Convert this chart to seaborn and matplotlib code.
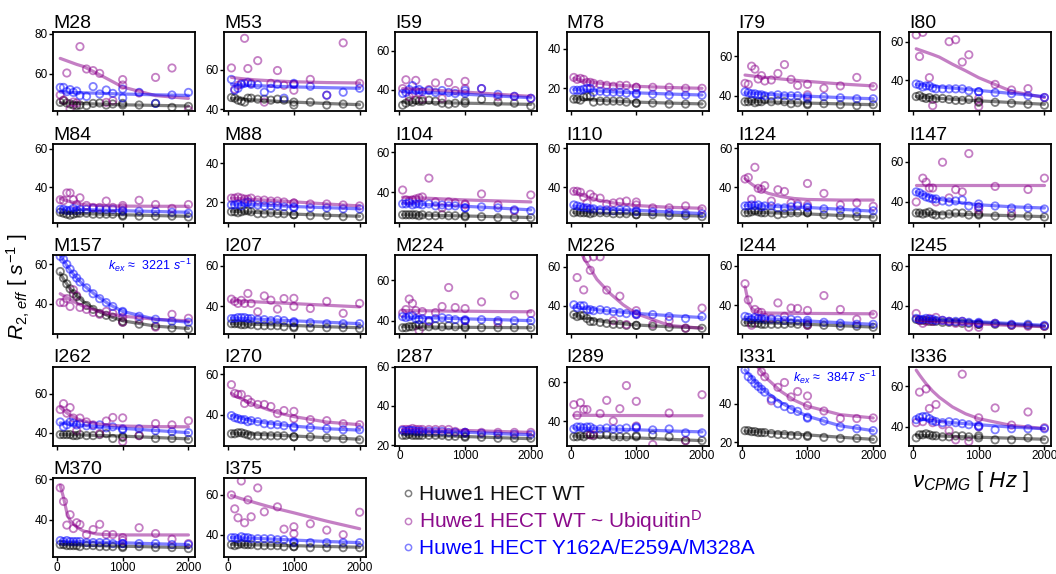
import numpy as np
import matplotlib
matplotlib.use("Agg")
import matplotlib.pyplot as plt
from matplotlib.lines import Line2D
from matplotlib.ticker import MultipleLocator, NullFormatter
import seaborn as sns

nan = np.nan

# ---------------------------------------------------------------- data
residues = ["M28", "M53", "I59", "M78", "I79", "I80",
            "M84", "M88", "I104", "I110", "I124", "I147",
            "M157", "I207", "M224", "M226", "I244", "I245",
            "I262", "I270", "I287", "I289", "I331", "I336",
            "M370", "I375"]

# CPMG refocusing frequencies (Hz) of the measured points
nu_cpmg = [50, 100, 150, 200, 250, 300, 350, 450, 550, 650, 750, 850,
           1000, 1000, 1250, 1500, 1750, 2000]
# frequencies at which the fitted dispersion curves are tabulated
nu_fit = [50, 100, 150, 200, 300, 400, 600, 800, 1000, 1500, 2000]

y_limits = {
    "M28": (41.5, 81), "M53": (39, 79), "I59": (29, 69.5), "M78": (8.5, 48.5),
    "I79": (32.3, 72.3), "I80": (24, 65), "M84": (21.7, 62.6), "M88": (9.5, 50),
    "I104": (24.6, 64.5), "I110": (22, 62.5), "I124": (22, 62.5), "I147": (29.8, 69),
    "M157": (24.5, 64.7), "I207": (26.4, 65.4), "M224": (33.4, 72.5), "M226": (25.6, 65.9),
    "I244": (25.6, 65.5), "I245": (25.6, 65.6), "I262": (33.4, 74), "I270": (24.7, 63.8),
    "I287": (19.8, 60.2), "I289": (27.5, 68.1), "I331": (18.3, 59.3), "I336": (30.7, 69.8),
    "M370": (21.3, 60.7), "I375": (28.8, 68.5),
}

# R2,eff of Huwe1 HECT WT
wt_r2 = {
    "M28": [45.8, 46.7, 45.5, 45.0, 44.5, 44.2, 44.5, 44.2, 45.3, 45.5, 44.5, 45.0, 45.3, 44.5, 44.5, 45.3, 43.3, 43.8],
    "M53": [45.8, 45.5, 44.5, 44.0, 43.5, 45.5, 45.5, 45.0, 45.0, 44.5, 45.0, 44.5, 43.5, 42.0, 43.5, 42.0, 42.5, 42.0],
    "I59": [32.0, 33.0, 34.0, 33.5, 34.5, 34.0, 34.0, 34.5, 34.0, 33.0, 32.5, 33.0, 34.0, 33.0, 35.0, 33.5, 33.0, 31.5],
    "M78": [14.5, 14.5, 14.0, 15.5, 16.0, 16.0, 13.0, 13.5, 13.5, 13.5, 13.5, 13.0, 12.5, 12.5, 12.5, 12.0, 12.0, 12.0],
    "I79": [37.0, 37.0, 37.5, 36.5, 37.0, 37.0, 38.0, 37.0, 37.5, 37.0, 36.0, 36.5, 36.0, 35.5, 36.0, 35.5, 35.0, 35.5],
    "I80": [31.5, 32.0, 31.0, 30.5, 31.0, 30.0, 30.5, 30.5, 30.0, 29.5, 29.5, 30.0, 29.0, 28.5, 28.5, 28.0, 27.5, 27.0],
    "M84": [27.0, 26.5, 26.0, 25.5, 26.0, 26.5, 26.5, 26.5, 26.0, 26.0, 26.0, 26.0, 25.5, 25.0, 25.0, 25.0, 25.0, 24.5],
    "M88": [15.0, 15.0, 14.5, 15.0, 15.5, 15.5, 15.0, 14.0, 14.0, 14.5, 14.0, 14.0, 13.5, 13.5, 13.0, 13.0, 12.5, 12.5],
    "I104": [28.5, 28.5, 28.5, 28.5, 28.5, 28.0, 28.5, 28.0, 28.0, 28.5, 28.0, 28.0, 28.0, 27.5, 27.5, 27.0, 27.0, 27.0],
    "I110": [27.0, 27.5, 27.0, 27.0, 27.0, 26.5, 27.0, 27.0, 27.0, 26.5, 26.5, 26.5, 26.0, 26.0, 26.0, 25.5, 25.5, 25.0],
    "I124": [27.0, 27.0, 27.5, 28.0, 27.5, 27.0, 27.0, 27.0, 26.0, 26.5, 27.0, 27.0, 27.0, 27.0, 26.0, 25.5, 25.0, 24.5],
    "I147": [34.5, 34.5, 34.0, 34.5, 35.0, 34.0, 33.5, 33.5, 34.0, 34.5, 34.5, 33.5, 33.5, 34.0, 33.0, 33.0, 33.0, 32.5],
    "M157": [56.3, 53.0, 50.0, 47.5, 45.0, 43.5, 41.5, 39.0, 37.0, 35.0, 34.0, 33.0, 31.0, 30.5, 29.5, 28.5, 27.5, 27.0],
    "I207": [31.5, 31.5, 31.5, 31.0, 31.0, 31.5, 31.0, 30.5, 30.5, 30.5, 30.5, 30.0, 29.5, 30.0, 29.5, 29.5, 29.5, 29.0],
    "M224": [36.5, 36.5, 37.0, 37.0, 37.5, 38.0, 37.0, 37.0, 37.5, 37.0, 37.5, 37.0, 36.5, 37.0, 36.5, 36.5, 36.5, 36.5],
    "M226": [35.5, 34.5, 35.0, 35.0, 33.5, 32.0, 32.0, 31.5, 31.0, 30.5, 30.5, 30.0, 30.0, 30.0, 29.5, 29.0, 28.5, 28.5],
    "I244": [31.5, 31.5, 31.0, 31.0, 31.0, 30.5, 30.5, 30.5, 30.5, 30.5, 31.0, 30.5, 30.0, 30.5, 30.0, 29.5, 29.5, 29.0],
    "I245": [33.0, 32.5, 32.5, 32.5, 32.0, 32.0, 32.0, 31.5, 31.5, 31.5, 31.0, 31.0, 30.5, 30.5, 30.5, 30.0, 30.0, 29.5],
    "I262": [39.0, 39.0, 39.0, 39.0, 38.5, 38.5, 39.0, 38.5, 38.5, 39.0, 39.5, 37.0, 38.0, 37.5, 38.5, 37.0, 37.0, 36.5],
    "I270": [30.5, 30.5, 31.0, 31.0, 30.5, 30.0, 29.5, 29.5, 29.5, 29.5, 29.5, 29.5, 29.0, 29.0, 29.0, 28.5, 28.0, 27.5],
    "I287": [25.0, 25.0, 25.5, 25.0, 25.0, 25.0, 25.0, 25.0, 25.0, 25.0, 24.5, 24.5, 24.5, 24.0, 24.0, 23.5, 23.5, 23.5],
    "I289": [32.0, 32.0, 32.5, 32.0, 33.0, 33.0, 32.5, 33.0, 33.0, 32.0, 32.0, 32.0, 32.5, 32.0, 33.0, 32.0, 30.0, 30.0],
    "I331": [26.0, 26.0, 25.5, 25.5, 25.0, 25.0, 25.0, 24.5, 24.0, 24.0, 23.5, 23.5, 23.5, 23.0, 22.5, 22.0, 22.0, 21.5],
    "I336": [34.5, 36.0, 36.0, 36.5, 36.0, 35.5, 35.5, 35.0, 35.0, 35.5, 35.5, 35.0, 35.5, 34.5, 33.5, 33.5, 34.5, 33.5],
    "M370": [27.5, 27.5, 27.0, 27.0, 27.0, 27.0, 26.5, 27.0, 27.0, 26.5, 26.5, 26.5, 26.5, 26.0, 26.5, 26.0, 26.0, 25.5],
    "I375": [35.0, 34.5, 35.0, 35.5, 35.0, 35.0, 35.0, 34.5, 34.5, 34.5, 34.5, 34.0, 34.0, 34.0, 33.5, 33.5, 33.5, 33.5],
}

# R2,eff of Huwe1 HECT WT ~ ubiquitin donor
ub_r2 = {
    "M28": [49.5, 47.0, 60.5, 42.5, 46.0, 45.5, 73.7, 62.5, 61.7, 60.3, 45.8, 46.7, 57.2, 54.5, 50.5, 58.3, 63.0, 42.0],
    "M53": [60.8, 50.0, 52.0, 53.0, 75.8, 60.5, 53.0, 64.5, 43.5, 53.0, 59.5, 52.0, 52.5, 49.5, 55.0, 47.0, 73.5, 53.0],
    "I59": [40.5, 45.0, 36.3, 38.0, 44.7, 38.5, 35.0, 40.0, 43.4, 35.4, 43.6, 39.5, 44.2, 40.5, 40.5, 36.3, 36.5, 35.5],
    "M78": [25.5, 24.5, 25.0, 24.5, 23.0, 23.0, 22.5, 22.0, 21.5, 21.0, 21.5, 21.5, 20.5, 20.5, 20.5, 20.5, 20.0, 20.0],
    "I79": [46.3, 45.8, 55.0, 53.5, 48.5, 50.2, 47.5, 48.0, 51.3, 55.8, 48.3, 45.2, 45.8, 40.5, 43.8, 45.0, 49.3, 44.7],
    "I80": [63.5, 52.3, 64.8, nan, 41.3, 26.8, nan, nan, 60.0, 61.0, 49.4, 53.2, 26.3, 30.5, 37.8, 34.9, 35.6, 31.0],
    "M84": [33.5, 33.0, 37.0, 37.0, 33.5, 31.0, 34.5, 30.5, 29.5, 29.5, 32.8, 29.5, 30.5, 29.5, 33.2, 31.0, 29.0, 31.0],
    "M88": [22.0, 22.0, 22.5, 22.0, 21.5, 21.5, 22.0, 21.0, 21.0, 20.5, 20.5, 20.0, 19.5, 19.5, 19.0, 19.0, 18.5, 18.0],
    "I104": [41.0, 36.0, 35.5, 36.0, 36.5, 37.0, 37.5, 47.0, 35.0, 32.0, 35.0, 34.5, 34.0, 33.5, 39.0, 33.5, 30.5, 38.5],
    "I110": [38.0, 38.0, 37.5, 35.0, 32.0, 36.5, 35.0, 34.5, 31.5, 32.0, 32.5, 33.0, 32.5, 31.0, 29.5, 29.5, 30.5, 29.0],
    "I124": [44.3, 45.1, 34.0, 50.3, 39.5, 39.0, 40.9, 33.0, 38.8, 37.9, 32.0, 31.5, 42.0, 31.0, 36.9, 31.0, 32.0, 30.3],
    "I147": [40.0, nan, 51.8, 49.8, 46.9, 46.9, 40.0, 59.7, 42.0, 46.1, 45.0, 64.0, 36.0, 37.5, 47.7, 34.5, 46.2, 51.8],
    "M157": [40.5, 40.5, 42.5, 38.5, 47.0, 44.0, 38.0, 37.0, 35.5, 34.5, 36.0, 35.0, 30.5, 33.0, 32.0, 28.0, 34.5, 32.5],
    "I207": [43.6, 42.5, 41.5, 43.0, 41.5, 46.4, 41.5, 37.4, 45.2, 43.1, 38.7, 43.9, 40.0, 44.0, 39.0, 42.5, 36.6, 41.5],
    "M224": [43.8, 45.5, 50.7, 48.5, 45.0, 35.1, 44.5, 39.5, 44.0, 47.0, 56.4, 46.5, 46.0, 40.0, 49.3, 39.0, 52.6, 43.5],
    "M226": [nan, 54.4, nan, 48.1, 64.2, 58.1, 65.0, 65.0, 48.0, 32.4, 44.9, 30.4, 37.5, 35.5, 30.5, 32.4, 28.6, 38.8],
    "I244": [51.0, 42.8, 30.0, 38.0, 36.7, 36.5, 34.0, 33.5, 41.3, 34.5, 38.7, 38.5, 37.5, 30.0, 45.0, 38.0, 33.0, 35.5],
    "I245": [36.0, 32.5, 31.0, 32.0, 33.5, 32.0, 34.0, 32.5, 32.0, 31.0, 32.0, 29.0, 29.0, 31.0, 31.0, 30.0, 29.5, 29.5],
    "I262": [51.9, 54.9, 50.0, 52.9, 47.5, 41.0, 47.5, 45.5, 44.0, 39.5, 46.0, 47.8, 47.6, 35.4, 38.5, 44.7, 44.0, 46.1],
    "I270": [54.8, 50.5, 50.0, 50.0, 45.5, 47.5, 46.0, 45.0, 45.0, 44.0, 40.5, 42.0, 41.6, 38.0, 37.5, 37.0, 35.5, 35.0],
    "I287": [28.0, 28.0, 28.0, 28.5, 28.0, 28.0, 28.0, 28.0, 28.0, 28.0, 28.0, 27.0, 26.5, 26.5, 26.5, 26.5, 26.5, 26.5],
    "I289": [48.5, 43.0, 49.5, 46.0, 46.0, 33.0, 33.0, 43.9, 50.7, 40.0, 46.4, 58.3, 50.2, 37.5, 28.0, 44.2, 30.0, 53.6],
    "I331": [70.0, 68.0, 66.0, 64.0, 62.0, 56.5, 54.0, 41.5, 48.5, 51.0, 43.5, 46.3, 44.0, 39.0, 36.2, 32.3, 32.3, 32.6],
    "I336": [42.0, 57.1, 42.5, 58.7, 49.0, 42.0, 51.0, 41.0, 38.0, 33.5, 66.0, 32.7, 44.4, 40.0, 49.3, 40.8, 47.3, 39.5],
    "M370": [55.8, 49.0, 37.2, 42.4, 35.5, 38.4, 37.5, 32.4, 35.0, 37.6, 32.5, 32.5, 31.0, 29.5, 35.9, 33.0, 30.2, 28.0],
    "I375": [60.0, 53.0, 48.5, 67.0, 46.0, 57.5, 49.0, 63.5, 51.5, nan, 54.0, 42.8, 44.0, 40.5, 45.5, 42.3, 40.0, 51.3],
}

# R2,eff of Huwe1 HECT Y162A/E259A/M328A
mut_r2 = {
    "M28": [53.3, 53.3, 51.2, 52.2, 50.8, 51.5, 49.2, 48.8, 53.7, 50.0, 52.0, 50.3, 52.5, 48.0, 50.8, 45.3, 49.5, 50.8],
    "M53": [55.0, 49.5, 50.5, 52.5, 53.0, 53.5, 52.5, 52.3, 48.5, 50.5, 52.5, 45.5, 52.5, 53.0, 51.5, 47.0, 48.5, 50.5],
    "I59": [38.0, 38.5, 40.0, 42.0, 39.5, 40.0, 39.0, 39.5, 38.5, 39.5, 38.5, 38.0, 38.0, 39.5, 40.5, 37.5, 36.5, 35.5],
    "M78": [19.0, 19.0, 19.0, 19.5, 20.0, 20.0, 18.0, 18.5, 18.0, 18.0, 18.0, 17.5, 17.0, 17.5, 17.0, 16.5, 16.5, 16.5],
    "I79": [42.0, 41.5, 41.0, 41.0, 40.5, 40.5, 40.0, 40.0, 40.5, 40.0, 40.0, 40.0, 39.5, 38.5, 39.5, 39.0, 38.5, 38.5],
    "I80": [38.0, 37.5, 36.5, 37.0, 37.0, 36.0, 35.5, 35.5, 35.5, 35.5, 35.5, 34.5, 34.0, 34.0, 33.5, 33.0, 32.0, 31.0],
    "M84": [28.5, 28.5, 28.0, 28.0, 29.0, 28.0, 28.5, 28.5, 29.0, 28.5, 28.5, 28.5, 27.5, 28.0, 27.5, 27.5, 27.0, 26.5],
    "M88": [18.5, 18.5, 19.0, 18.0, 19.5, 20.0, 19.0, 18.5, 18.0, 18.0, 18.0, 17.5, 17.0, 17.5, 17.0, 17.0, 16.5, 16.5],
    "I104": [34.0, 34.0, 34.5, 33.5, 34.0, 34.0, 33.5, 34.0, 33.0, 33.5, 33.0, 33.0, 32.0, 32.0, 32.5, 32.0, 31.0, 30.5],
    "I110": [31.0, 30.5, 30.0, 29.5, 29.5, 29.0, 29.0, 28.5, 28.5, 28.0, 28.5, 28.5, 28.0, 27.5, 27.5, 27.0, 26.5, 26.5],
    "I124": [30.5, 30.5, 31.0, 30.5, 31.0, 30.0, 30.5, 30.5, 29.5, 29.5, 30.0, 30.5, 29.5, 30.0, 29.0, 28.5, 27.5, 28.0],
    "I147": [45.0, 44.5, 43.5, 42.5, 42.0, 41.5, 41.5, 40.5, 40.0, 40.5, 41.0, 38.0, 39.0, 37.5, 38.0, 37.0, 37.0, 36.5],
    "M157": [64.0, 62.5, 60.0, 57.5, 55.0, 53.0, 51.0, 48.0, 45.0, 42.5, 40.5, 38.5, 36.0, 35.5, 33.5, 32.0, 31.0, 30.5],
    "I207": [34.0, 34.0, 34.5, 34.5, 34.5, 34.0, 34.0, 33.5, 33.5, 33.0, 33.5, 33.0, 32.5, 32.0, 32.0, 31.5, 31.5, 31.5],
    "M224": [42.0, 41.5, 42.0, 42.5, 41.0, 40.5, 41.0, 40.0, 41.0, 41.5, 41.0, 40.5, 40.5, 40.0, 40.5, 40.0, 40.0, 40.0],
    "M226": [40.5, 39.0, 40.0, 40.0, 38.0, 38.0, 37.5, 38.0, 37.5, 37.0, 36.5, 36.0, 36.0, 35.5, 35.5, 34.5, 33.5, 34.5],
    "I244": [34.5, 34.0, 33.0, 34.0, 33.5, 33.5, 33.0, 33.0, 33.0, 32.5, 33.0, 32.5, 32.5, 31.5, 31.5, 31.0, 30.5, 30.5],
    "I245": [33.5, 33.0, 33.0, 33.5, 33.0, 33.0, 32.5, 32.5, 32.0, 32.0, 32.0, 31.5, 31.5, 31.0, 31.0, 30.5, 30.5, 30.0],
    "I262": [45.5, 43.0, 44.0, 45.5, 45.0, 44.0, 44.5, 43.5, 43.5, 44.0, 42.5, 43.0, 42.0, 41.5, 42.0, 41.0, 40.5, 40.0],
    "I270": [39.5, 38.5, 38.0, 37.5, 37.5, 36.5, 37.0, 36.5, 35.5, 35.0, 35.0, 34.5, 34.0, 33.5, 33.5, 33.0, 32.5, 32.5],
    "I287": [27.5, 27.0, 27.5, 27.5, 27.0, 27.0, 27.0, 27.0, 27.0, 27.0, 26.5, 26.5, 26.5, 26.0, 26.0, 25.5, 25.5, 25.5],
    "I289": [36.0, 37.0, 37.0, 36.5, 37.0, 37.0, 36.0, 36.0, 36.5, 36.0, 36.0, 36.5, 36.5, 37.0, 35.5, 36.0, 34.0, 34.0],
    "I331": [57.5, 54.0, 52.5, 50.5, 49.0, 47.5, 46.0, 42.5, 40.0, 38.5, 37.0, 36.0, 33.0, 32.5, 31.0, 28.0, 27.0, 26.0],
    "I336": [43.5, 44.5, 45.0, 45.0, 44.0, 43.0, 42.5, 42.0, 42.5, 42.0, 41.5, 41.0, 40.0, 40.5, 38.5, 39.0, 39.0, 39.0],
    "M370": [29.5, 29.0, 29.5, 29.0, 29.0, 29.0, 29.0, 28.5, 28.5, 28.5, 28.5, 28.0, 28.0, 28.0, 28.0, 28.0, 27.5, 27.5],
    "I375": [38.5, 38.5, 38.0, 39.0, 38.5, 38.5, 38.0, 38.0, 38.0, 38.0, 37.5, 37.5, 36.5, 36.0, 36.0, 36.0, 36.0, 36.0],
}

# fitted dispersion curves, tabulated at nu_fit
wt_fit = {
    "M28": [45.6, 45.5, 45.5, 45.4, 45.3, 45.2, 45.0, 44.8, 44.6, 44.3, 44.0],
    "M53": [45.3, 45.2, 45.1, 45.0, 44.8, 44.6, 44.2, 43.8, 43.5, 42.8, 42.2],
    "I59": [33.5, 33.5, 33.5, 33.5, 33.4, 33.4, 33.3, 33.1, 33.0, 32.7, 32.4],
    "M78": [14.7, 14.6, 14.5, 14.4, 14.2, 14.0, 13.6, 13.3, 13.0, 12.5, 12.1],
    "I79": [37.3, 37.2, 37.2, 37.1, 37.0, 36.9, 36.7, 36.5, 36.3, 35.9, 35.5],
    "I80": [31.5, 31.4, 31.2, 31.1, 30.8, 30.6, 30.1, 29.7, 29.3, 28.4, 27.5],
    "M84": [26.6, 26.6, 26.5, 26.5, 26.4, 26.3, 26.1, 25.9, 25.7, 25.3, 24.9],
    "M88": [15.3, 15.2, 15.1, 15.0, 14.9, 14.7, 14.4, 14.1, 13.8, 13.2, 12.7],
    "I104": [28.5, 28.5, 28.5, 28.4, 28.4, 28.3, 28.2, 28.0, 27.9, 27.5, 27.1],
    "I110": [27.1, 27.1, 27.0, 27.0, 26.9, 26.8, 26.7, 26.5, 26.3, 25.8, 25.3],
    "I124": [27.3, 27.2, 27.2, 27.2, 27.1, 27.0, 26.8, 26.6, 26.4, 25.6, 24.8],
    "I147": [34.5, 34.5, 34.4, 34.4, 34.3, 34.2, 34.0, 33.8, 33.6, 33.2, 32.7],
    "M157": [55.5, 52.5, 50.0, 47.5, 44.0, 41.0, 36.5, 33.5, 31.2, 28.5, 27.3],
    "I207": [31.5, 31.5, 31.4, 31.4, 31.3, 31.2, 31.0, 30.8, 30.6, 30.0, 29.5],
    "M224": [37.0, 37.0, 37.0, 37.0, 36.9, 36.9, 36.8, 36.7, 36.7, 36.6, 36.5],
    "M226": [35.5, 35.0, 34.5, 34.0, 33.2, 32.5, 31.5, 30.8, 30.2, 29.3, 28.7],
    "I244": [31.5, 31.5, 31.4, 31.4, 31.3, 31.2, 31.0, 30.7, 30.5, 29.8, 29.1],
    "I245": [32.8, 32.7, 32.6, 32.6, 32.4, 32.3, 32.0, 31.7, 31.4, 30.4, 29.5],
    "I262": [39.0, 39.0, 39.0, 38.9, 38.9, 38.8, 38.6, 38.4, 38.2, 37.5, 36.8],
    "I270": [30.8, 30.7, 30.7, 30.6, 30.5, 30.3, 30.0, 29.7, 29.4, 28.6, 27.8],
    "I287": [25.3, 25.3, 25.2, 25.2, 25.1, 25.0, 24.8, 24.6, 24.4, 23.8, 23.3],
    "I289": [32.3, 32.3, 32.2, 32.2, 32.1, 32.0, 31.8, 31.6, 31.4, 30.7, 30.0],
    "I331": [25.8, 25.7, 25.6, 25.5, 25.3, 25.1, 24.6, 24.2, 23.8, 22.6, 21.5],
    "I336": [35.8, 35.7, 35.7, 35.6, 35.5, 35.4, 35.2, 35.0, 34.8, 34.3, 33.8],
    "M370": [27.5, 27.5, 27.4, 27.4, 27.3, 27.2, 27.0, 26.8, 26.7, 26.3, 26.0],
    "I375": [35.2, 35.2, 35.1, 35.1, 35.0, 34.9, 34.8, 34.6, 34.5, 34.1, 33.7],
}

ub_fit = {
    "M28": [67.8, 67.2, 66.6, 66.0, 64.8, 63.8, 60.5, 57.0, 53.5, 49.2, 47.8],
    "M53": [56.0, 55.8, 55.6, 55.4, 55.1, 54.8, 54.4, 54.1, 53.8, 53.4, 53.2],
    "I59": [40.5, 40.5, 40.4, 40.3, 40.1, 39.9, 39.5, 39.1, 38.7, 37.6, 36.5],
    "M78": [25.0, 24.6, 24.2, 23.9, 23.2, 22.7, 21.9, 21.4, 21.0, 20.4, 20.0],
    "I79": [50.5, 50.3, 50.1, 49.9, 49.5, 49.2, 48.5, 47.9, 47.3, 46.0, 45.0],
    "I80": [56.3, 55.7, 55.1, 54.5, 53.3, 52.0, 48.3, 44.9, 41.3, 34.2, 31.0],
    "M84": [34.2, 33.5, 33.0, 32.5, 31.7, 31.0, 30.5, 30.3, 30.2, 30.1, 30.1],
    "M88": [22.0, 21.9, 21.8, 21.7, 21.5, 21.3, 20.9, 20.5, 20.1, 19.0, 18.0],
    "I104": [37.4, 37.3, 37.3, 37.2, 37.1, 36.9, 36.6, 36.3, 36.0, 35.5, 35.0],
    "I110": [38.2, 37.3, 36.5, 35.8, 34.6, 33.6, 32.3, 31.4, 30.7, 29.8, 29.3],
    "I124": [44.5, 43.0, 41.7, 40.5, 38.5, 37.0, 35.3, 34.3, 33.8, 33.5, 33.5],
    "I147": [48.5, 48.5, 48.5, 48.5, 48.5, 48.5, 48.5, 48.5, 48.5, 48.5, 48.5],
    "M157": [45.0, 44.0, 43.0, 42.0, 40.2, 38.7, 36.4, 34.8, 33.6, 32.0, 31.2],
    "I207": [42.8, 42.8, 42.7, 42.6, 42.5, 42.3, 42.0, 41.7, 41.4, 40.6, 39.8],
    "M224": [45.0, 45.0, 45.0, 44.9, 44.9, 44.9, 44.8, 44.7, 44.7, 44.5, 44.4],
    "M226": [76.0, 71.5, 68.0, 64.5, 59.0, 53.5, 46.3, 40.5, 36.0, 30.0, 28.5],
    "I244": [49.5, 41.5, 38.7, 37.3, 36.4, 36.2, 36.1, 36.0, 36.0, 35.9, 35.8],
    "I245": [32.5, 32.4, 32.3, 32.2, 32.0, 31.8, 31.4, 31.0, 30.7, 29.9, 29.3],
    "I262": [53.0, 51.5, 50.2, 49.0, 47.2, 46.0, 44.6, 43.8, 43.4, 43.1, 43.0],
    "I270": [50.5, 49.5, 48.6, 47.8, 46.3, 45.0, 42.5, 40.5, 39.0, 36.3, 35.0],
    "I287": [28.0, 28.0, 28.0, 27.9, 27.9, 27.8, 27.7, 27.6, 27.5, 27.0, 26.5],
    "I289": [43.0, 43.0, 43.0, 43.0, 43.0, 43.0, 42.9, 42.9, 42.9, 42.8, 42.8],
    "I331": [68.0, 66.0, 63.5, 61.0, 56.5, 52.5, 46.3, 41.8, 38.7, 34.3, 32.6],
    "I336": [68.0, 65.6, 63.4, 61.3, 57.6, 54.6, 49.8, 46.4, 44.0, 40.6, 39.1],
    "M370": [57.0, 51.0, 43.5, 39.5, 36.2, 34.3, 32.8, 32.4, 32.3, 32.3, 32.3],
    "I375": [59.7, 59.2, 58.6, 58.1, 57.2, 56.2, 54.3, 52.6, 51.0, 46.8, 43.0],
}

mut_fit = {
    "M28": [51.0, 50.9, 50.9, 50.8, 50.7, 50.6, 50.4, 50.2, 50.0, 49.6, 49.3],
    "M53": [52.5, 52.4, 52.3, 52.2, 52.0, 51.9, 51.6, 51.4, 51.2, 50.8, 50.5],
    "I59": [38.8, 38.8, 38.8, 38.7, 38.6, 38.5, 38.2, 37.9, 37.6, 36.7, 35.8],
    "M78": [19.4, 19.3, 19.2, 19.1, 18.9, 18.7, 18.3, 18.0, 17.7, 17.1, 16.6],
    "I79": [41.5, 41.4, 41.3, 41.2, 41.0, 40.8, 40.4, 40.1, 39.8, 39.1, 38.5],
    "I80": [37.8, 37.6, 37.4, 37.2, 36.8, 36.5, 35.9, 35.3, 34.7, 33.1, 31.5],
    "M84": [28.7, 28.7, 28.6, 28.6, 28.5, 28.4, 28.2, 28.0, 27.8, 27.4, 27.0],
    "M88": [19.0, 18.9, 18.9, 18.8, 18.7, 18.6, 18.3, 18.0, 17.7, 17.1, 16.5],
    "I104": [34.2, 34.1, 34.1, 34.0, 33.9, 33.7, 33.4, 33.1, 32.8, 31.9, 31.0],
    "I110": [30.5, 30.3, 30.1, 29.9, 29.6, 29.3, 28.9, 28.6, 28.3, 27.4, 26.6],
    "I124": [30.7, 30.7, 30.6, 30.6, 30.5, 30.4, 30.1, 29.9, 29.7, 28.8, 27.8],
    "I147": [45.0, 44.3, 43.7, 43.2, 42.2, 41.4, 40.2, 39.3, 38.6, 37.6, 37.0],
    "M157": [64.5, 62.0, 59.5, 57.0, 53.0, 49.5, 44.0, 39.5, 36.0, 32.0, 30.5],
    "I207": [34.3, 34.2, 34.2, 34.1, 34.0, 33.8, 33.5, 33.2, 32.9, 32.2, 31.5],
    "M224": [41.8, 41.8, 41.7, 41.7, 41.6, 41.5, 41.3, 41.1, 40.9, 40.5, 40.0],
    "M226": [39.5, 39.3, 39.0, 38.8, 38.4, 38.0, 37.3, 36.7, 36.1, 35.0, 34.0],
    "I244": [34.0, 33.9, 33.8, 33.7, 33.5, 33.3, 32.9, 32.5, 32.2, 31.3, 30.5],
    "I245": [33.3, 33.2, 33.1, 33.0, 32.9, 32.7, 32.4, 32.1, 31.8, 30.9, 30.0],
    "I262": [45.0, 44.8, 44.6, 44.4, 44.0, 43.7, 43.2, 42.7, 42.2, 41.1, 40.0],
    "I270": [39.5, 39.0, 38.6, 38.2, 37.5, 36.8, 35.8, 35.0, 34.3, 33.0, 32.3],
    "I287": [27.5, 27.5, 27.4, 27.4, 27.3, 27.2, 27.0, 26.8, 26.6, 25.9, 25.3],
    "I289": [36.5, 36.5, 36.4, 36.4, 36.3, 36.2, 36.0, 35.8, 35.6, 35.0, 34.5],
    "I331": [57.5, 55.5, 53.5, 51.5, 48.0, 45.3, 40.5, 36.7, 33.5, 28.5, 26.0],
    "I336": [44.0, 43.8, 43.6, 43.4, 43.0, 42.6, 42.0, 41.5, 41.0, 39.8, 39.0],
    "M370": [29.2, 29.2, 29.1, 29.1, 29.0, 28.9, 28.7, 28.5, 28.4, 27.9, 27.5],
    "I375": [38.6, 38.5, 38.5, 38.4, 38.3, 38.2, 37.9, 37.6, 37.3, 36.6, 36.0],
}

# exchange rates quoted for the two residues with the largest dispersions
kex_values = {"M157": 3221, "I331": 3847}

state_labels = ["Huwe1 HECT WT",
                r"Huwe1 HECT WT ~ Ubiquitin$^{\mathrm{D}}$",
                "Huwe1 HECT Y162A/E259A/M328A"]

# ---------------------------------------------------------------- style
sns.set_theme(style="ticks")
plt.rcParams["font.family"] = ["Liberation Sans", "DejaVu Sans"]
plt.rcParams["mathtext.fontset"] = "custom"
plt.rcParams["mathtext.rm"] = "Liberation Sans"
plt.rcParams["mathtext.it"] = "Liberation Sans:italic"
plt.rcParams["mathtext.bf"] = "Liberation Sans:bold"
for key in ("text.color", "axes.labelcolor", "xtick.color", "ytick.color",
            "axes.edgecolor"):
    plt.rcParams[key] = "black"

point_colors = ["#000000", "#8B008B", "#0000FF"]
text_colors = ["#111111", "#8B0A8B", "#0000FF"]
series = [(wt_r2, wt_fit), (ub_r2, ub_fit), (mut_r2, mut_fit)]

W, H = 1056, 574
fig = plt.figure(figsize=(W / 100, H / 100), dpi=100)

ax_w, ax_h = 142, 79
col_pitch, row_pitch = 171.2, 111.5
x0, y0 = 53, 32

# panels whose x tick labels are printed (bottom of each column)
labelled_x = {"M370", "I375", "I287", "I289", "I331", "I336"}

for k, name in enumerate(residues):
    r, c = divmod(k, 6)
    left = x0 + c * col_pitch
    top = y0 + r * row_pitch
    ax = fig.add_axes([left / W, 1 - (top + ax_h) / H, ax_w / W, ax_h / H])

    for (pts, fit), col in zip(series, point_colors):
        sns.lineplot(x=nu_fit, y=fit[name], ax=ax, color=col, linewidth=2.3,
                     alpha=0.5, legend=False)
    for (pts, fit), col in zip(series, point_colors):
        sns.scatterplot(x=nu_cpmg, y=pts[name], ax=ax, color=col,
                        marker="o", s=28, facecolors="none", edgecolor=col,
                        linewidth=1.3, alpha=0.5, legend=False)

    ax.set_xlim(-60, 2100)
    ax.set_ylim(*y_limits[name])
    ax.set_xticks([0, 1000, 2000])
    ax.yaxis.set_major_locator(MultipleLocator(20))
    if name not in labelled_x:
        ax.xaxis.set_major_formatter(NullFormatter())
    ax.set_xlabel("")
    ax.set_ylabel("")
    ax.tick_params(axis="both", direction="out", length=3, width=1,
                   labelsize=8.5, pad=1, colors="black")
    ax.tick_params(axis="x", pad=0.5)
    for sp in ax.spines.values():
        sp.set_visible(True)
        sp.set_linewidth(1.3)
        sp.set_color("black")
    ax.set_title(name, loc="left", fontsize=14, pad=1.5, x=0.0, color="black")

    if name in kex_values:
        ax.text(0.975, 0.975,
                r"$k_{ex}\,\approx\,$ " + f"{kex_values[name]}" + r" $s^{-1}$",
                transform=ax.transAxes, ha="right", va="top",
                fontsize=9, color="#0000FF")

# shared axis labels
fig.text(18 / W, 1 - 287 / H, r"$R_{2,\,eff}$ [ $s^{-1}$ ]", rotation=90,
         ha="center", va="center", fontsize=15)
fig.text(970 / W, 1 - 481 / H, r"$\nu_{CPMG}$ [ $Hz$ ]",
         ha="center", va="center", fontsize=16)

# legend
handles = [Line2D([], [], linestyle="none", marker="o", markersize=4.5,
                  markerfacecolor="none", markeredgecolor=col,
                  markeredgewidth=1.1, alpha=0.5)
           for col in point_colors]
leg = fig.legend(handles, state_labels, loc="upper left",
                 bbox_to_anchor=(402 / W, 1 - 485 / H), frameon=False,
                 fontsize=15, handlelength=0.6, handletextpad=0.2,
                 labelspacing=0.22, borderaxespad=0, borderpad=0)
for txt, col in zip(leg.get_texts(), text_colors):
    txt.set_color(col)

fig.savefig("out.png", dpi=100)
